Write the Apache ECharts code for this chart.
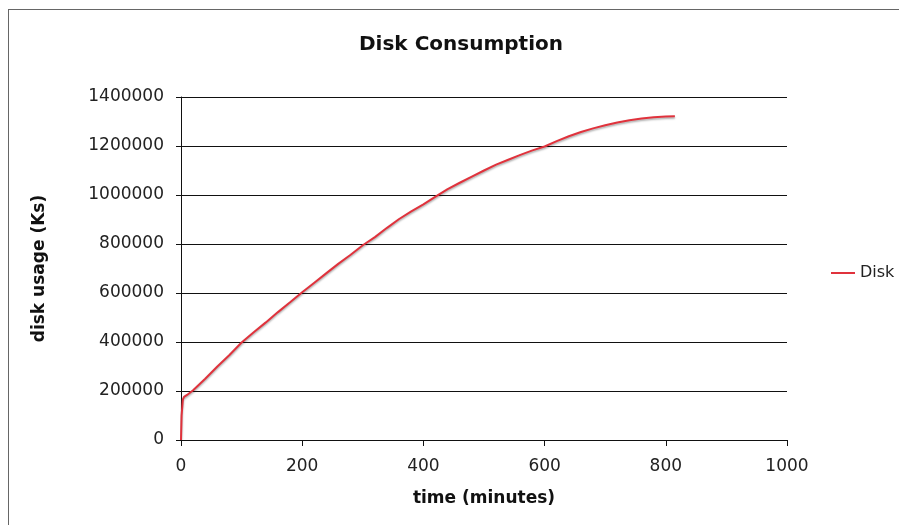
<!DOCTYPE html>
<html>
<head>
<meta charset="utf-8">
<script src="https://cdn.jsdelivr.net/npm/echarts@6/dist/echarts.min.js"></script>
<style>
html,body{margin:0;padding:0;background:#fff;}
#frame{position:absolute;left:8px;top:9px;width:891px;height:516px;border-left:1px solid #666;border-top:1px solid #666;}
#chart{position:absolute;left:0;top:0;width:899px;height:525px;}
</style>
</head>
<body>
<div id="frame"></div>
<div id="chart"></div>
<script>
const titleText = 'Disk Consumption';
const seriesName = 'Disk';
const xName = 'time (minutes)';
const yName = 'disk usage (Ks)';
const timeMinutes = [0, 1, 3, 5, 10, 20, 40, 60, 80, 100, 120, 140, 160, 180, 200, 220, 240, 260, 280, 300, 320, 340, 360, 380, 400, 420, 440, 460, 480, 500, 520, 540, 560, 580, 600, 620, 640, 660, 680, 700, 720, 740, 760, 780, 800, 815];
const diskKs = [0, 100000, 165000, 176000, 184000, 203000, 250000, 300000, 347000, 398000, 440000, 480000, 522000, 562000, 603000, 642000, 681000, 720000, 756000, 795000, 828000, 866000, 902000, 933000, 962000, 993000, 1024000, 1050000, 1075000, 1100000, 1124000, 1144000, 1164000, 1182000, 1198000, 1220000, 1240000, 1257000, 1272000, 1285000, 1296000, 1305000, 1312000, 1317000, 1320000, 1321000];
const xTicks = {min: 0, max: 1000, interval: 200};
const yTicks = {min: 0, max: 1400000, interval: 200000};

const chart = echarts.init(document.getElementById('chart'), null, {renderer: 'canvas'});
const fontFam = '"DejaVu Sans", Verdana, sans-serif';
chart.setOption({
  backgroundColor: 'transparent',
  animation: false,
  title: {
    text: titleText,
    left: 456, top: 30, textAlign: 'center',
    textStyle: {fontFamily: fontFam, fontWeight: 'bold', fontSize: 20, color: '#111'}
  },
  legend: {
    data: [seriesName],
    left: 826, top: 260,
    itemWidth: 24, itemHeight: 2,
    itemGap: 5,
    icon: 'rect',
    textStyle: {fontFamily: fontFam, fontSize: 16, color: '#222'}
  },
  grid: {left: 181, right: 112, top: 97, bottom: 85, containLabel: false},
  xAxis: {
    type: 'value',
    min: xTicks.min, max: xTicks.max, interval: xTicks.interval,
    name: xName, nameLocation: 'middle', nameGap: 50,
    nameTextStyle: {fontFamily: fontFam, fontWeight: 'bold', fontSize: 17, color: '#111'},
    axisLine: {show: true, lineStyle: {color: '#111', width: 1}},
    axisTick: {show: true, inside: false, length: 6, lineStyle: {color: '#111'}},
    axisLabel: {fontFamily: fontFam, fontSize: 17, color: '#222', margin: 18, formatter: v => String(v)},
    splitLine: {show: false}
  },
  yAxis: {
    type: 'value',
    min: yTicks.min, max: yTicks.max, interval: yTicks.interval,
    name: yName, nameLocation: 'middle', nameGap: 133, nameRotate: 90,
    nameTextStyle: {fontFamily: fontFam, fontWeight: 'bold', fontSize: 17, color: '#111'},
    axisLine: {show: true, onZero: false, lineStyle: {color: '#111', width: 1}},
    axisTick: {show: true, inside: false, length: 5, lineStyle: {color: '#111'}},
    axisLabel: {fontFamily: fontFam, fontSize: 17, color: '#222', margin: 17, formatter: v => String(v)},
    splitLine: {show: true, lineStyle: {color: '#111', width: 1}}
  },
  series: [{
    name: seriesName,
    type: 'line',
    data: timeMinutes.map((t, i) => [t, diskKs[i]]),
    showSymbol: false,
    symbol: 'none',
    lineStyle: {color: '#e0323c', width: 2, shadowColor: 'rgba(0,0,0,0.35)', shadowBlur: 2, shadowOffsetY: 1.5},
    itemStyle: {color: '#e0323c'}
  }]
});
</script>
</body>
</html>
